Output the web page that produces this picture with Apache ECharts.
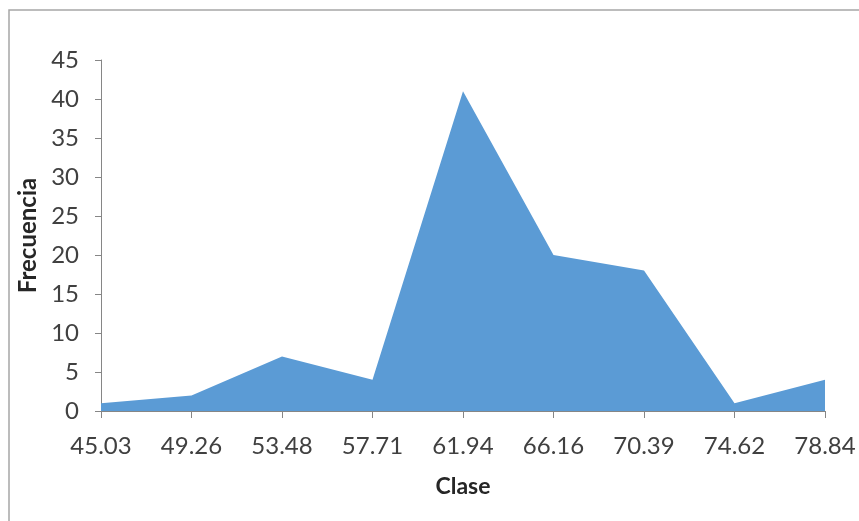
<!DOCTYPE html>
<html>
<head>
<meta charset="utf-8">
<script src="https://cdn.jsdelivr.net/npm/echarts@6/dist/echarts.min.js"></script>
<style>
  html, body { margin: 0; padding: 0; background: #fff; }
  #chart { width: 859px; height: 521px; }
</style>
</head>
<body>
<div id="chart"></div>
<script>
// Class marks (x axis) and their frequencies
const clases = ['45.03', '49.26', '53.48', '57.71', '61.94', '66.16', '70.39', '74.62', '78.84'];
const frecuencias = [1, 2, 7, 4, 41, 20, 18, 1, 4];
const yTicks = { min: 0, max: 45, interval: 5 };

const font = 'Lato, "Open Sans", sans-serif';
const axisGray = '#868686';
const labelColor = '#404040';

const chart = echarts.init(document.getElementById('chart'), null, { renderer: 'canvas' });
chart.setOption({
  animation: false,
  backgroundColor: '#ffffff',
  graphic: [{
    type: 'rect',
    shape: { x: 9, y: 10, width: 870, height: 530 },
    style: { fill: 'none', stroke: '#a6a6a6', lineWidth: 1.5 },
    silent: true
  }],
  grid: { left: 101, right: 34, top: 60, bottom: 110, containLabel: false },
  xAxis: {
    type: 'category',
    data: clases,
    boundaryGap: false,
    name: 'Clase',
    nameLocation: 'middle',
    nameGap: 64,
    nameTextStyle: { fontFamily: font, fontSize: 23, fontWeight: 'bold', color: '#262626' },
    axisLine: { lineStyle: { color: axisGray, width: 1 } },
    axisTick: { show: true, length: 7, alignWithLabel: true, lineStyle: { color: axisGray } },
    axisLabel: { fontFamily: font, fontSize: 24, color: labelColor, margin: 23, interval: 0 },
    splitLine: { show: false }
  },
  yAxis: {
    type: 'value',
    min: yTicks.min,
    max: yTicks.max,
    interval: yTicks.interval,
    name: 'Frecuencia',
    nameLocation: 'middle',
    nameGap: 60,
    nameRotate: 90,
    nameTextStyle: { fontFamily: font, fontSize: 24, fontWeight: 'bold', color: '#262626' },
    axisLine: { show: true, lineStyle: { color: axisGray, width: 1 } },
    axisTick: { show: true, length: 6, lineStyle: { color: axisGray } },
    axisLabel: { fontFamily: font, fontSize: 24, color: labelColor, margin: 22 },
    splitLine: { show: false }
  },
  series: [{
    type: 'line',
    data: frecuencias,
    symbol: 'none',
    lineStyle: { width: 0 },
    areaStyle: { color: '#5b9bd5', opacity: 1 },
    itemStyle: { color: '#5b9bd5' }
  }]
});
</script>
</body>
</html>
